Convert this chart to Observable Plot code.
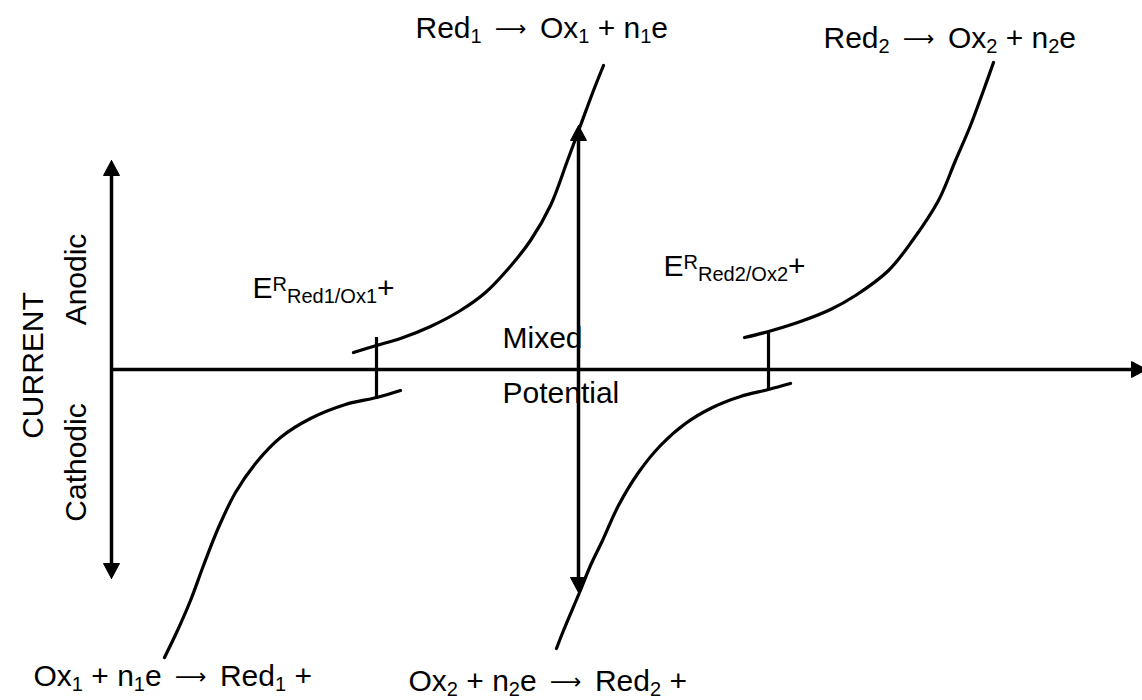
<!DOCTYPE html>
<html><head><meta charset="utf-8">
<script src="https://cdn.jsdelivr.net/npm/d3@7"></script>
<script src="https://cdn.jsdelivr.net/npm/@observablehq/plot@0.6"></script>
<style>body{margin:0;background:#fff}#chart svg{display:block}</style>
</head><body><div id="chart"></div>
<script>
// Schematic polarisation curves: [potential, current]  (current > 0 anodic, < 0 cathodic)
const anodic1 = [[353,17],[376,24],[400,31],[430,43],[460,59],[485,77],[508,101],[530,129],[550,164],[567,209],[580,244],[593,279],[603,304]];
const cathodic1 = [[400,-21],[376,-28],[345,-35],[310,-49],[280,-68],[255,-94],[235,-123],[218,-158],[203,-196],[190,-231],[177,-261],[164,-288]];
const anodic2 = [[744,32],[768,38],[800,48],[830,60],[855,74],[888,99],[912,129],[938,169],[955,209],[970,244],[983,279],[993,307]];
const cathodic2 = [[790,-14],[768,-20],[740,-27],[712,-38],[685,-54],[660,-76],[638,-103],[618,-136],[602,-171],[590,-196],[579,-223],[563,-261],[556,-279]];

// Axes arrows: [x1, y1, x2, y2, doubleHeaded]
const arrowDefs = [
  [111, -209, 111, 209, true],   // current axis
  [110, 0, 1146, 0, false],      // potential axis
  [578, -223, 578, 244, true]    // mixed potential
];
// Equilibrium tie lines: [potential, top, bottom]
const tieLines = [[376, 32, -30], [768, 38, -20]];

// Labels: [x, y, markup]
const labels = [
  [415, 332, "Red_{1} → Ox_{1} + n_{1}e"],
  [823, 322, "Red_{2} → Ox_{2} + n_{2}e"],
  [252, 72, "E^{R}_{Red1/Ox1}+"],
  [663, 94, "E^{R}_{Red2/Ox2}+"],
  [502, 22, "Mixed"],
  [502, -33, "Potential"],
  [33, -316, "Ox_{1} + n_{1}e → Red_{1} +"],
  [408, -321, "Ox_{2} + n_{2}e → Red_{2} +"]
];
const axisLabels = [
  [76, 90, "Anodic"],
  [33, 4, "CURRENT"],
  [76, -93, "Cathodic"]
];

const FONT = 30, SMALL = 20, ARROW_FONT = 22, ARROW_GAP = 5;
const toObj = (pts, id) => pts.map(([x, y]) => ({x, y, id}));
const curves = [
  ...toObj(anodic1, "a1"), ...toObj(cathodic1, "c1"),
  ...toObj(anodic2, "a2"), ...toObj(cathodic2, "c2")
];

// Build shafts and filled arrowheads from arrow definitions
const HL = 15, HW = 8;
const shafts = [], heads = [];
arrowDefs.forEach(([x1, y1, x2, y2, dbl], i) => {
  const len = Math.hypot(x2 - x1, y2 - y1);
  const ux = (x2 - x1) / len, uy = (y2 - y1) / len;
  const px = -uy, py = ux;
  let sx1 = x1, sy1 = y1, sx2 = x2 - ux * HL, sy2 = y2 - uy * HL;
  const head = (tx, ty, dx, dy, id) => {
    const bx = tx - dx * HL, by = ty - dy * HL;
    heads.push({x: tx, y: ty, id}, {x: bx + px * HW, y: by + py * HW, id}, {x: bx - px * HW, y: by - py * HW, id}, {x: tx, y: ty, id});
  };
  head(x2, y2, ux, uy, "h" + i + "e");
  if (dbl) { sx1 = x1 + ux * HL; sy1 = y1 + uy * HL; head(x1, y1, -ux, -uy, "h" + i + "s"); }
  shafts.push({x1: sx1, y1: sy1, x2: sx2, y2: sy2});
});

const ties = tieLines.map(([x, y1, y2]) => ({x, y1, y2}));
const textData = labels.map(([x, y, t]) => ({x, y, t}));
const rotData = axisLabels.map(([x, y, t]) => ({x, y, t}));

const svg = Plot.plot({
  width: 1142, height: 700,
  margin: 0,
  x: {domain: [0, 1142], axis: null},
  y: {domain: [-331, 369], axis: null},
  style: {fontFamily: "'Liberation Sans', Arial, sans-serif", background: "#fff", overflow: "visible"},
  marks: [
    Plot.link(shafts, {x1: "x1", y1: "y1", x2: "x2", y2: "y2", stroke: "black", strokeWidth: 3.5}),
    Plot.line(heads, {x: "x", y: "y", z: "id", fill: "black", stroke: "black", strokeWidth: 1}),
    Plot.line(curves, {x: "x", y: "y", z: "id", curve: "catmull-rom", stroke: "black", strokeWidth: 3.2}),
    Plot.ruleX(ties, {x: "x", y1: "y1", y2: "y2", stroke: "black", strokeWidth: 3.2}),
    Plot.text(textData, {x: "x", y: "y", text: "t", textAnchor: "start", lineAnchor: "bottom", fontSize: FONT, fill: "black"}),
    Plot.text(rotData, {x: "x", y: "y", text: "t", rotate: -90, textAnchor: "middle", lineAnchor: "middle", fontSize: FONT, fill: "black"})
  ]
});

// Rich text: _{...} subscript, ^{...} superscript, long arrow
const NS = "http://www.w3.org/2000/svg";
const SHIFT = {"_": 5, "^": -7};
svg.querySelectorAll('g[aria-label="text"] text').forEach(el => {
  const s = el.textContent;
  if (!/[_^]\{|→/.test(s)) return;
  el.textContent = "";
  const re = /([_^])\{([^}]*)\}|→/g;
  let last = 0, off = 0, pendingDx = 0, m;
  const add = (txt, target, small, arrow) => {
    if (!txt) return;
    const t = document.createElementNS(NS, "tspan");
    t.textContent = txt;
    const dy = target - off;
    if (dy) t.setAttribute("dy", dy);
    if (pendingDx) { t.setAttribute("dx", pendingDx); pendingDx = 0; }
    if (small) t.setAttribute("font-size", SMALL);
    if (arrow) {
      t.setAttribute("font-family", "'DejaVu Sans', sans-serif");
      t.setAttribute("font-size", ARROW_FONT);
      t.setAttribute("dx", ARROW_GAP);
      pendingDx = ARROW_GAP;
    }
    off = target;
    el.appendChild(t);
  };
  while ((m = re.exec(s))) {
    add(s.slice(last, m.index), 0, false);
    if (m[0] === "→") add("⟶", -2, false, true);
    else add(m[2], SHIFT[m[1]], true);
    last = re.lastIndex;
  }
  add(s.slice(last), 0, false);
});

document.getElementById("chart").appendChild(svg);
</script>
</body></html>
